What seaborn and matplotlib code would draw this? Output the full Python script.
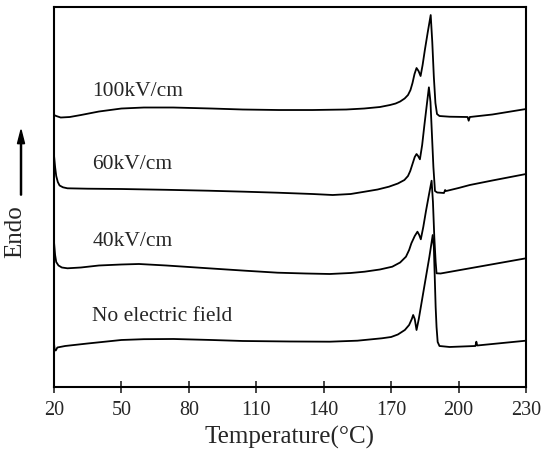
import numpy as np
import pandas as pd
import matplotlib.pyplot as plt
import seaborn as sns

# DSC traces, offset vertically (arbitrary heat-flow units)
t_100 = [20, 21, 23, 27, 32, 40, 50, 60, 73, 90, 104, 120, 135, 150, 158, 165, 169.5, 172, 174,
         176, 177.5, 178.6, 179.5, 180.4, 181.3, 182.2, 183.1, 184, 185, 186.3, 187.6, 188.3, 189,
         189.7, 190.4, 191.5, 196, 204, 204.5, 205, 215, 230]
v_100 = [272, 271, 269.5, 270, 272, 275.5, 278.5, 279.5, 279.5, 278.5, 277.5, 277, 277, 277.5,
         278.5, 280, 282, 283.5, 285.5, 288.5, 292, 297, 304, 313, 319, 316, 311, 322, 337, 355,
         372, 345, 310, 284, 273, 271, 270.3, 270, 266.3, 270, 272.5, 278]

t_60 = [20, 20.5, 21, 21.7, 22.5, 24, 26, 35, 50, 70, 88.7, 105, 119.5, 135, 144, 152, 158.2,
        164, 169, 173, 175.9, 177.5, 178.5, 179.5, 180.5, 181.3, 182, 182.8, 183.8, 184.8, 185.8,
        186.8, 187.5, 188.2, 188.8, 189.5, 190.5, 191.8, 193.5, 194, 194.5, 200, 205, 215, 230]
v_60 = [232, 220, 211, 205, 201.5, 199.7, 198.7, 198.3, 198, 197.2, 196.3, 195.3, 194.3, 193,
        192, 193, 195.3, 197.5, 200.3, 203.5, 207, 211, 216, 223, 230, 233, 231, 227.7, 242, 262,
        281, 299.7, 285, 250, 220, 196, 194.5, 194.3, 194, 197, 196, 199, 202, 206.5, 213]

t_40 = [20, 20.5, 21, 22, 23.5, 26, 32, 40, 50, 57.8, 70, 88.7, 105, 119.5, 132, 142.7, 152,
        158.2, 165, 170.5, 174, 176.6, 178, 179, 180.5, 181.7, 182.5, 183.2, 184.3, 185.5, 186.8,
        188, 188.6, 189.2, 189.8, 190.2, 192, 205, 230]
v_40 = [145.3, 132, 125, 121.5, 119.5, 118.7, 119.5, 121.5, 122.5, 123, 121.5, 118.7, 116.3,
        114.3, 113.5, 113, 114, 115.3, 117.5, 120.3, 124.5, 130.3, 137, 143.7, 151, 155.3, 152,
        147.7, 160, 176, 192, 206.3, 185, 150, 125, 113.7, 113.5, 118.7, 128.7]

t_0 = [20, 20.3, 20.8, 21.5, 25, 35, 50, 60, 73.2, 90, 104, 125, 142.7, 155, 165.9, 170, 173,
       176.1, 178, 179.2, 179.8, 180.5, 181.3, 182.3, 185, 187, 188.5, 189, 189.4, 189.8, 190.2,
       190.7, 191.5, 196, 207.5, 207.9, 208.3, 230]
v_0 = [44, 37, 36.5, 39.5, 41, 43.5, 47, 47.8, 48, 47, 46, 45.5, 45.3, 46.3, 48.7, 50, 52.5,
       57, 62, 68, 72, 68, 57, 68, 103.7, 130, 152, 140, 110, 80, 60, 45, 41, 40, 41, 45.3,
       41.5, 46.3]

labels = ['100kV/cm', '60kV/cm', '40kV/cm', 'No electric field']
label_y = [286, 213, 136, 61]

sns.set_theme(style='ticks')
plt.rcParams['font.family'] = ['Liberation Serif', 'DejaVu Serif']

frames = []
for name, t, v in zip(labels, [t_100, t_60, t_40, t_0], [v_100, v_60, v_40, v_0]):
    frames.append(pd.DataFrame({'T': t, 'signal': v, 'field': name}))
df = pd.concat(frames, ignore_index=True)

fig = plt.figure(figsize=(5.43, 4.59), dpi=100)
ax = fig.add_axes([0.0994, 0.1569, 0.8693, 0.8278])
sns.lineplot(data=df, x='T', y='signal', units='field', estimator=None, sort=False,
             color='black', linewidth=1.3, ax=ax)

for name, y in zip(labels, label_y):
    ax.text(37, y, name, fontsize=15.5, va='bottom', ha='left')

ax.set_xlim(20, 230)
ax.set_ylim(0, 380)
ax.set_xticks(np.arange(20, 231, 30))
ax.set_yticks([])
ax.tick_params(axis='x', direction='inout', length=8, width=1.2, labelsize=14.5, pad=6)
for s in ax.spines.values():
    s.set_linewidth(1.5)
    s.set_color('black')

ax.set_xlabel('Temperature(\u00b0C)', fontsize=18, labelpad=4)
ax.set_ylabel('Endo', fontsize=18)
ax.yaxis.set_label_coords(-0.058, 0.41)

# arrow above the "Endo" label
fig.patches.append(plt.matplotlib.patches.FancyArrow(
    0.0387, 0.575, 0, 0.142, width=0.002, head_width=0.013, head_length=0.03,
    length_includes_head=True, color='black', transform=fig.transFigure, figure=fig))

fig.savefig('out.png', dpi=100)
